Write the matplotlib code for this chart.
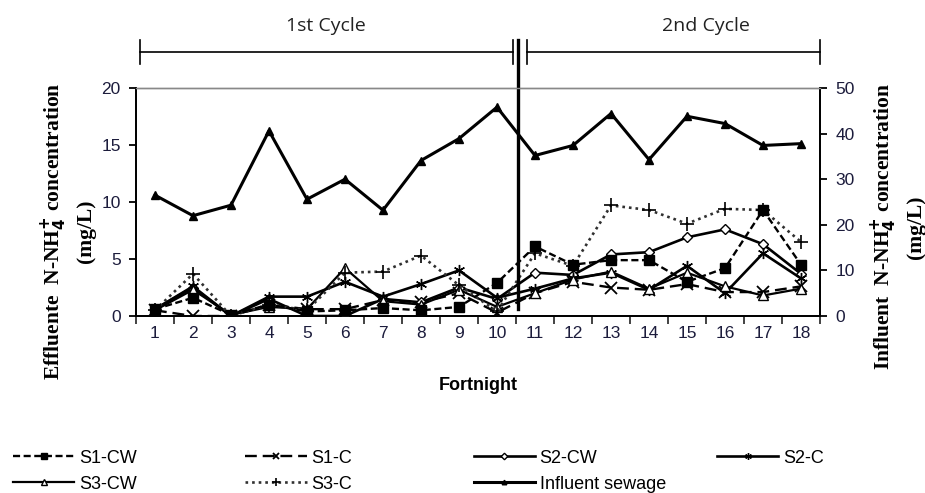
import numpy as np
import matplotlib
matplotlib.use("Agg")
import matplotlib.pyplot as plt
from matplotlib.transforms import blended_transform_factory

plt.rcParams['font.family'] = ['Liberation Sans', 'DejaVu Sans']

# ── data ──────────────────────────────────────────────────────────────────────
fortnight = np.arange(1, 19)
s1_cw = [0.6, 1.6, 0.1, 1.0, 0.4, 0.5, 0.7, 0.5, 0.8, 2.9, 6.1, 4.5, 4.9, 4.9, 3.0, 4.2, 9.3, 4.5]
s1_c = [0.5, 0.0, 0.0, 1.0, 0.6, 0.6, 1.4, 1.2, 2.0, 0.3, 2.0, 3.0, 2.5, 2.3, 2.8, 2.1, 2.1, 2.6]
s2_cw = [0.6, 2.5, 0.0, 1.5, 0.0, 0.0, 1.5, 1.2, 2.5, 1.5, 3.8, 3.6, 5.4, 5.6, 6.9, 7.6, 6.3, 3.7]
s2_c = [0.6, 2.6, 0.0, 1.7, 1.7, 3.0, 1.7, 2.8, 4.0, 1.6, 2.4, 3.3, 3.8, 2.3, 4.4, 2.0, 5.5, 3.3]
s3_cw = [0.5, 2.3, 0.1, 0.8, 0.6, 4.2, 1.3, 1.0, 2.3, 0.8, 2.0, 3.2, 3.9, 2.4, 3.8, 2.6, 1.8, 2.4]
s3_c = [0.5, 3.7, 0.0, 1.0, 0.5, 3.8, 3.9, 5.3, 2.7, 0.4, 5.5, 4.4, 9.7, 9.3, 8.1, 9.4, 9.3, 6.5]
influent = [26.5, 22.0, 24.3, 40.6, 25.6, 30.0, 23.2, 34.1, 38.9, 45.8,
            35.2, 37.4, 44.4, 34.3, 43.8, 42.2, 37.4, 37.8]

left_ticks = [0, 5, 10, 15, 20]
right_ticks = [0, 10, 20, 30, 40, 50]
cycle_labels = ["1st Cycle", "2nd Cycle"]

# ── figure ────────────────────────────────────────────────────────────────────
fig = plt.figure(figsize=(9.25, 4.93), dpi=100)
ax = fig.add_axes([0.147, 0.359, 0.7395, 0.4625])
ax2 = ax.twinx()

k = 'black'
h_s1cw, = ax.plot(fortnight, s1_cw, ls=(0, (3, 1.5)), color=k, lw=1.7, marker='s', ms=7.5,
                  mfc=k, mec=k, label='S1-CW', zorder=4)
h_s1c, = ax.plot(fortnight, s1_c, ls=(0, (5, 2.5)), color=k, lw=1.7, marker='x', ms=8,
                 mew=1.3, label='S1-C', zorder=3)
h_s2cw, = ax.plot(fortnight, s2_cw, ls='-', color=k, lw=1.9, marker='D', ms=5.5,
                  mfc='white', mec=k, mew=1.0, label='S2-CW', zorder=3)
h_s2c, = ax.plot(fortnight, s2_c, ls='-', color=k, lw=1.9, marker=(6, 2, 0), ms=8,
                 mew=1.0, label='S2-C', zorder=3)
h_s3cw, = ax.plot(fortnight, s3_cw, ls='-', color=k, lw=1.6, marker='^', ms=7,
                  mfc='white', mec=k, mew=1.0, label='S3-CW', zorder=3)
h_s3c, = ax.plot(fortnight, s3_c, ls=(0, (1, 1.5)), color='#303030', lw=1.9, marker='+',
                 ms=10, mew=1.2, mec=k, label='S3-C', zorder=3)
h_inf, = ax2.plot(fortnight, influent, ls='-', color=k, lw=2.2, marker='^', ms=5.5,
                  label='Influent sewage')

# axes limits / ticks
ax.set_xlim(0.5, 18.5)
ax.set_ylim(0, 20)
ax2.set_ylim(0, 50)
ax.set_yticks(left_ticks)
ax2.set_yticks(right_ticks)
ax.set_xticks(np.arange(0.5, 18.6, 1.0))
ax.set_xticklabels([])
ax.set_xticks(fortnight, minor=True)
ax.set_xticklabels([str(v) for v in fortnight], minor=True)
ax.tick_params(axis='x', which='major', direction='out', length=6, width=1.2, color='#222')
ax.tick_params(axis='x', which='minor', length=0, pad=7, labelsize=12.5, labelcolor='#1c1c3c')
ax.tick_params(axis='y', direction='out', length=5, width=1.3, pad=6, labelsize=12.5,
               labelcolor='#1c1c3c')
ax2.tick_params(axis='y', direction='out', length=5, width=1.3, pad=6, labelsize=12.5,
                labelcolor='#1c1c3c')

for a in (ax, ax2):
    a.spines['top'].set_color('#888')
    a.spines['top'].set_linewidth(1.0)
    for s in ('left', 'right', 'bottom'):
        a.spines[s].set_linewidth(1.3)

# labels
ax.set_xlabel('Fortnight', fontsize=13, fontweight='bold', labelpad=26)
fig.text(0.073, 0.53, 'Effluente  N-NH$_\\mathbf{4}^\\mathbf{+}$ concentration\n(mg/L)',
         rotation=90, ha='center', va='center', multialignment='center',
         family='Liberation Serif', fontweight='bold', fontsize=15.5, linespacing=1.45)
fig.text(0.971, 0.54, 'Influent  N-NH$_\\mathbf{4}^\\mathbf{+}$ concentration\n(mg/L)',
         rotation=90, ha='center', va='center', multialignment='center',
         family='Liberation Serif', fontweight='bold', fontsize=15.5, linespacing=1.45)

# cycle brackets and separator
tr = blended_transform_factory(ax.transData, ax.transAxes)
yb, yc0, yc1 = 1.158, 1.105, 1.21
for x0, x1 in [(0.6, 10.42), (10.78, 18.5)]:
    ax.plot([x0, x1], [yb, yb], color=k, lw=1.2, transform=tr, clip_on=False)
    for xe in (x0, x1):
        ax.plot([xe, xe], [yc0, yc1], color=k, lw=1.2, transform=tr, clip_on=False)
ax.plot([10.55, 10.55], [0.03, 1.21], color=k, lw=2.4, transform=tr, clip_on=False, zorder=6)
for xc, txt in zip([5.5, 15.5], cycle_labels):
    ax.text(xc, 1.27, txt, transform=tr, ha='center', va='center', fontsize=14,
            family=['Open Sans', 'DejaVu Sans'], color='#222')

# legend: four columns placed separately
cols = [([h_s1cw, h_s3cw], 0.014), ([h_s1c, h_s3c], 0.265),
        ([h_s2cw, h_inf], 0.512), ([h_s2c], 0.775)]
for hs, xpos in cols:
    lg = fig.legend(handles=hs, loc='upper left', bbox_to_anchor=(xpos, 0.088),
                    frameon=False, fontsize=13, handlelength=3.4, handletextpad=0.25,
                    labelspacing=0.5, borderpad=0, borderaxespad=0, markerscale=0.6)

fig.savefig('out.png', dpi=100)
